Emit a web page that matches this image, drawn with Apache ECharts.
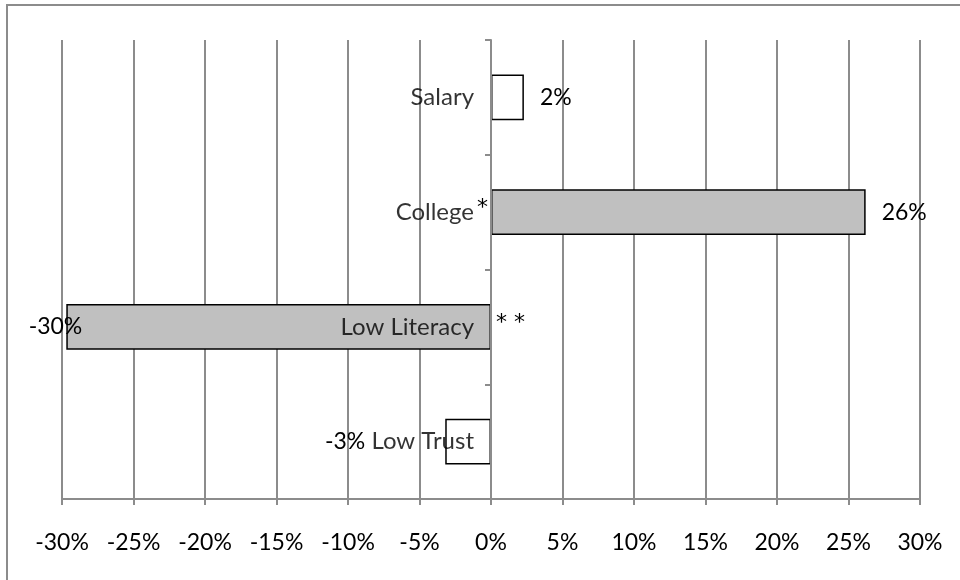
<!DOCTYPE html>
<html>
<head>
<meta charset="utf-8">
<script src="https://cdn.jsdelivr.net/npm/echarts@6/dist/echarts.min.js"></script>
<style>
  html, body { margin: 0; padding: 0; background: #fff; }
  #chart { width: 960px; height: 580px; }
</style>
</head>
<body>
<div id="chart"></div>
<script>
// data, top to bottom
const categories = ["Salary", "College", "Low Literacy", "Low Trust"];
const values = [2.3, 26.2, -29.7, -3.2];
const shaded = [false, true, true, false];
// significance marks next to the category name
const stars = ["", "*", "**", ""];
const xMin = -30;
const xMax = 30;
const xStep = 5;

const FONT = "Lato";
const GRID_GRAY = "#8c8c8c";

let myChart = echarts.init(document.getElementById("chart"));

let barData = values.map((v, i) => ({
  value: v,
  itemStyle: { color: shaded[i] ? "#c0c0c0" : "#ffffff" },
  label: v >= 0
    ? { position: "right", distance: 16 }
    : (v < -10 ? { position: "left", distance: -16 } : { position: "left", distance: 80 }),
}));

// category names sit against the zero line
let nameData = categories.map((c, i) => [0, i]);

let border = {
  type: "rect",
  shape: { x: 7, y: 5, width: 1200, height: 1200 },
  style: { fill: "none", stroke: GRID_GRAY, lineWidth: 2 },
  silent: true,
};

myChart.setOption({
  animation: false,
  grid: {
    left: 62,
    right: 40,
    top: 40,
    bottom: 81,
    containLabel: false,
    outerBoundsMode: "none",
  },
  xAxis: {
    type: "value",
    min: xMin,
    max: xMax,
    interval: xStep,
    axisLine: {
      show: true,
      lineStyle: { color: GRID_GRAY, width: 2 },
    },
    axisTick: {
      show: true,
      length: 6,
      lineStyle: { color: GRID_GRAY, width: 2 },
    },
    axisLabel: {
      formatter: "{value}%",
      color: "#000",
      fontFamily: FONT,
      fontSize: 23,
      margin: 32,
    },
    splitLine: {
      show: true,
      lineStyle: { color: GRID_GRAY, width: 2 },
    },
  },
  yAxis: {
    type: "category",
    data: categories,
    inverse: true,
    z: 5,
    axisLine: {
      show: true,
      onZero: true,
      lineStyle: { color: GRID_GRAY, width: 2 },
    },
    axisTick: {
      show: true,
      length: 6,
      lineStyle: { color: GRID_GRAY, width: 2 },
    },
    axisLabel: { show: false },
    splitLine: { show: false },
  },
  series: [
    {
      type: "bar",
      data: barData,
      barWidth: "40%",
      itemStyle: {
        borderColor: "#000",
        borderWidth: 1.5,
      },
      label: {
        show: true,
        color: "#000",
        fontFamily: FONT,
        fontSize: 23,
        formatter: (p) => Math.round(p.value) + "%",
      },
    },
    {
      type: "scatter",
      data: nameData,
      symbolSize: 0,
      z: 6,
      silent: true,
      label: {
        show: true,
        position: "left",
        distance: 17,
        color: "#000",
        fontFamily: FONT,
        fontSize: 24,
        formatter: (p) => categories[p.dataIndex],
      },
    },
  ],
  graphic: [border],
});

// place the significance stars next to the category names
let starGraphics = [];
stars.forEach((s, i) => {
  if (!s) return;
  let pt = myChart.convertToPixel({ seriesIndex: 0 }, [0, i]);
  let left = values[i] >= 0;
  starGraphics.push({
    type: "text",
    x: left ? pt[0] - 3 : pt[0] + 5,
    y: pt[1] - 4,
    z: 10,
    style: {
      text: s.split("").join(" "),
      fill: "#000",
      font: "22px 'DejaVu Sans'",
      textAlign: left ? "right" : "left",
      textVerticalAlign: "middle",
    },
  });
});
myChart.setOption({ graphic: [border].concat(starGraphics) });
</script>
</body>
</html>
